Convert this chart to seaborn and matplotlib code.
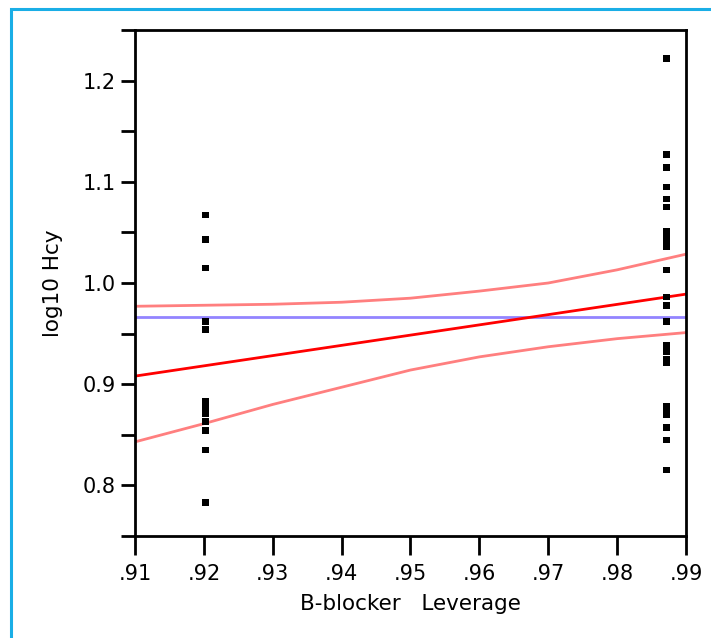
import numpy as np
import pandas as pd
import seaborn as sns
import matplotlib
matplotlib.use("Agg")
import matplotlib.pyplot as plt
from matplotlib.patches import Rectangle

# Data
left_x = 0.9202
left_y = [1.067, 1.043, 1.015, 0.962, 0.954, 0.883, 0.879, 0.875, 0.871, 0.863, 0.854, 0.835, 0.783]
right_x = 0.9872
right_y = [1.222, 1.127, 1.114, 1.095, 1.083, 1.075, 1.051, 1.044, 1.040, 1.036, 1.013, 0.986,
           0.978, 0.962, 0.938, 0.932, 0.925, 0.921, 0.878, 0.874, 0.870, 0.857, 0.845, 0.815]

fit_x = [0.91, 0.99]
fit_y = [0.908, 0.989]
mean_y = 0.9665

ci_x = [0.91, 0.92, 0.93, 0.94, 0.95, 0.96, 0.97, 0.98, 0.99]
ci_upper = [0.977, 0.978, 0.979, 0.981, 0.985, 0.992, 1.000, 1.013, 1.0285]
ci_lower = [0.843, 0.861, 0.880, 0.897, 0.914, 0.927, 0.937, 0.945, 0.951]

x_ticks = [0.91, 0.92, 0.93, 0.94, 0.95, 0.96, 0.97, 0.98, 0.99]
x_labels = [".91", ".92", ".93", ".94", ".95", ".96", ".97", ".98", ".99"]
y_ticks = [0.8, 0.9, 1.0, 1.1, 1.2]
y_labels = ["0.8", "0.9", "1.0", "1.1", "1.2"]

sns.set_style("white")
plt.rcParams['font.family'] = ['DejaVu Sans']
plt.rcParams['text.color'] = 'black'
plt.rcParams['axes.labelcolor'] = 'black'
plt.rcParams['xtick.color'] = 'black'
plt.rcParams['ytick.color'] = 'black'

df = pd.DataFrame({
    "x": [left_x] * len(left_y) + [right_x] * len(right_y),
    "y": left_y + right_y,
})

fig = plt.figure(figsize=(7.11, 6.38), dpi=100)
W, H = 711, 638
ax = fig.add_axes([135 / W, 1 - 536 / H, (686 - 135) / W, (536 - 30) / H])

# Light blue frame around the panel
fig.patches.append(Rectangle((11 / W, -0.1), 1.2, 1 - 9 / H + 0.1, transform=fig.transFigure,
                             fill=False, edgecolor="#1AAEE6", linewidth=2.2, clip_on=False))

ax.plot(ci_x, ci_upper, color="#FF7F7F", lw=2)
ax.plot(ci_x, ci_lower, color="#FF7F7F", lw=2)
ax.axhline(mean_y, color="#9384FF", lw=2)
ax.plot(fit_x, fit_y, color="#FF0000", lw=2)
sns.scatterplot(data=df, x="x", y="y", ax=ax, marker="s", s=22, color="black",
                edgecolor="none", zorder=5)

ax.set_xlim(0.91, 0.99)
ax.set_ylim(0.75, 1.25)
ax.set_xticks(x_ticks)
ax.set_xticklabels(x_labels)
ax.set_yticks(y_ticks)
ax.set_yticklabels(y_labels)
ax.set_yticks([0.75, 0.85, 0.95, 1.05, 1.15, 1.25], minor=True)
for s in ax.spines.values():
    s.set_color("black")
    s.set_linewidth(2)
ax.tick_params(axis="x", which="major", direction="out", length=14, width=2, labelsize=15, pad=6,
               bottom=True)
ax.tick_params(axis="y", which="both", direction="out", length=10, width=2, labelsize=15, pad=4,
               left=True)
ax.set_xlabel("B-blocker   Leverage", fontsize=15.5, labelpad=7)
ax.set_ylabel("log10 Hcy", fontsize=15.5, labelpad=14)

fig.savefig("out.png", dpi=100)
